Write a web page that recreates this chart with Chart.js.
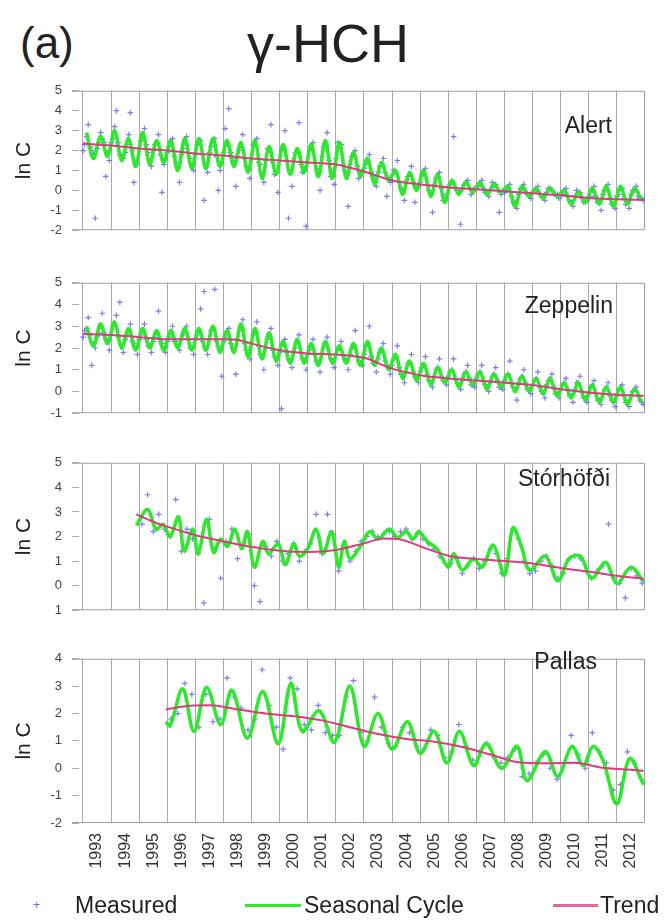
<!DOCTYPE html>
<html><head><meta charset="utf-8">
<script src="https://cdn.jsdelivr.net/npm/chart.js@4.4.1/dist/chart.umd.min.js"></script>
<style>
html,body{margin:0;padding:0;background:#fff;}
body{width:668px;height:922px;position:relative;overflow:hidden;font-family:"Liberation Sans",Arial,sans-serif;color:#222;}
.abs{position:absolute;line-height:1;white-space:nowrap;}
.panel{position:absolute;left:0;width:668px;}
canvas{display:block;}
</style></head><body>
<div class="abs" style="left:20px;top:21px;font-size:44px;">(a)</div>
<div class="abs" style="left:247px;top:16px;font-size:54px;">γ-HCH</div>

<div class="panel" style="top:66px;height:189px"><canvas id="c1" width="668" height="189"></canvas></div>
<div class="panel" style="top:258px;height:180px"><canvas id="c2" width="668" height="180"></canvas></div>
<div class="panel" style="top:438px;height:197px"><canvas id="c3" width="668" height="197"></canvas></div>
<div class="panel" style="top:634px;height:251px"><canvas id="c4" width="668" height="251"></canvas></div>

<div class="abs" style="right:56px;top:114px;font-size:23px;">Alert</div>
<div class="abs" style="right:55px;top:294px;font-size:23px;">Zeppelin</div>
<div class="abs" style="right:58px;top:467px;font-size:23px;">Stórhöfði</div>
<div class="abs" style="right:71px;top:650px;font-size:23px;">Pallas</div>

<div class="abs" style="left:33px;top:899px;font-size:12px;color:#6a6af0;">+</div>
<div class="abs" style="left:75px;top:894px;font-size:23px;">Measured</div>
<div class="abs" style="left:245px;top:904px;width:56px;height:3px;background:#2ee82e;"></div>
<div class="abs" style="left:304px;top:894px;font-size:23px;">Seasonal Cycle</div>
<div class="abs" style="left:553px;top:904px;width:45px;height:3px;background:#e2679b;"></div>
<div class="abs" style="left:600px;top:894px;font-size:23px;">Trend</div>

<script>
// ---------- axes ----------
const X_MIN = 1992.61, X_MAX = 2013.0;
const years = [1993,1994,1995,1996,1997,1998,1999,2000,2001,2002,2003,2004,2005,2006,2007,2008,2009,2010,2011,2012];
const yearLabels = ['1993','1994','1995','1996','1997','1998','1999','2000','2001','2002','2003','2004','2005','2006','2007','2008','2009','2010','2011','2012'];
const alertTickLabels = ['-2','-1','0','1','2','3','4','5'];
const zeppelinTickLabels = ['-1','0','1','2','3','4','5'];
const storhofdiTickLabels = ['1','0','1','2','3','4','5'];
const pallasTickLabels = ['-2','-1','0','1','2','3','4'];

// ---------- Alert (measured: two sets of 8 per year from 1993; seasonal: 4 per year) ----------
const alertMeasured = [
  2.3, 3.3, 2.0, -1.4, 2.4, 2.6, 0.7, 1.5,
  2.6, 4.0, 1.8, 1.6, 2.3, 3.9, 0.4, 1.3,
  2.5, 3.1, 1.9, 1.2, 2.3, 2.8, -0.1, 1.6,
  2.2, 2.6, 1.4, 0.4, 2.1, 2.7, 1.6, 1.0,
  2.3, 2.5, -0.5, 0.9, 2.2, 2.6, 0.0, 1.4,
  3.1, 4.1, 1.6, 0.2, 2.0, 2.8, 1.2, 0.6,
  2.3, 2.6, 1.3, 0.4, 2.1, 3.3, 0.8, -0.1,
  2.0, 3.0, -1.4, 0.2, 1.9, 3.4, 0.9, -1.8,
  2.0, 2.4, 1.1, 0.0, 2.2, 2.9, 0.7, 0.3,
  2.4, 2.3, 1.0, -0.8, 1.7, 2.0, 0.6, 0.9,
  1.3, 1.8, 0.7, 0.2, 1.2, 1.6, -0.3, 0.4,
  1.0, 1.5, 0.1, -0.5, 0.7, 1.2, -0.6, 0.2,
  0.8, 1.1, 0.0, -1.1, 0.6, 0.9, -0.5, -0.2,
  0.3, 2.7, 0.0, -1.7, 0.3, 0.5, -0.2, 0.1,
  0.2, 0.5, -0.1, -0.3, 0.4, 0.3, -1.1, 0.0,
  0.0, 0.3, -0.6, -0.9, 0.1, 0.3, -0.2, -0.4,
  0.0, 0.2, -0.3, -0.5, 0.1, 0.0, -0.2, -0.4,
  -0.2, 0.1, -0.5, -0.8, 0.0, -0.1, -0.6, -0.5,
  -0.3, 0.2, -0.6, -1.0, 0.0, 0.3, -0.7, -0.9,
  -0.2, 0.1, -0.7, -0.9, 0.0, 0.2, -0.4, -0.5
];
const alertMeasured2 = [
  2.0, 2.7, 2.2, 1.8, 2.1, 2.9, 2.4, 1.9,
  2.4, 3.2, 2.4, 1.7, 1.9, 2.8, 2.0, 1.4,
  2.1, 2.7, 2.3, 1.5, 2.0, 2.4, 1.8, 1.3,
  1.9, 2.4, 1.7, 1.2, 1.8, 2.4, 1.9, 1.3,
  1.8, 2.4, 1.8, 1.3, 1.9, 2.5, 1.7, 1.0,
  1.9, 2.3, 1.9, 1.4, 1.7, 2.2, 1.6, 1.1,
  1.6, 2.3, 1.4, 0.8, 1.5, 2.0, 1.4, 0.9,
  1.5, 2.2, 1.5, 0.9, 1.6, 2.0, 1.3, 1.1,
  1.4, 2.1, 1.4, 0.9, 1.7, 2.3, 1.5, 0.8,
  1.6, 2.2, 1.3, 0.8, 1.3, 1.8, 1.2, 0.9,
  1.1, 1.5, 0.9, 0.5, 0.9, 1.3, 0.9, 0.6,
  0.5, 0.9, 0.4, 0.0, 0.5, 0.8, 0.4, 0.1,
  0.4, 0.8, 0.3, -0.2, 0.3, 0.7, 0.1, -0.4,
  0.2, 0.4, 0.1, -0.1, 0.1, 0.4, 0.1, 0.0,
  0.1, 0.3, 0.1, -0.1, 0.0, 0.2, 0.0, -0.2,
  -0.1, 0.1, -0.3, -0.6, -0.2, 0.1, -0.1, -0.3,
  -0.1, 0.0, -0.2, -0.3, -0.1, 0.1, -0.2, -0.2,
  -0.2, 0.0, -0.3, -0.6, -0.3, -0.1, -0.4, -0.6,
  -0.4, 0.0, -0.3, -0.6, -0.2, 0.1, -0.4, -0.7,
  -0.3, 0.1, -0.4, -0.6, -0.2, 0.0, -0.3, -0.4
];
const alertSeasonal = [
  2.9, 1.6, 2.7, 1.7,   3.0, 1.5, 2.6, 1.2,   2.9, 1.3, 2.5, 1.4,   2.5, 1.0, 2.6, 1.1,
  2.6, 1.1, 2.6, 1.2,   2.5, 1.2, 2.4, 0.9,   2.5, 0.6, 2.2, 0.8,   2.3, 0.8, 2.1, 0.9,
  2.3, 0.7, 2.5, 0.6,   2.4, 0.6, 1.9, 0.7,   1.6, 0.3, 1.4, 0.5,   1.0, -0.2, 0.9, 0.0,
  1.0, -0.3, 0.8, -0.6, 0.5, -0.2, 0.4, -0.1, 0.4, -0.2, 0.3, -0.1, 0.2, -0.8, 0.2, -0.3,
  0.1, -0.4, 0.1, -0.3, 0.0, -0.7, -0.1, -0.6, 0.1, -0.7, 0.2, -0.8, 0.2, -0.7, 0.1, -0.5
];
const alertTrend = [[1993.0,2.35],[1994,2.25],[1995,2.1],[1996,2.0],[1997,1.85],[1998,1.75],[1999,1.6],[2000,1.5],[2001,1.4],[2002,1.3],[2003,0.95],[2004,0.5],[2005,0.3],[2006,0.15],[2007,0.05],[2008,-0.05],[2009,-0.15],[2010,-0.25],[2011,-0.38],[2012,-0.45],[2012.95,-0.47]];

// ---------- Zeppelin ----------
const zeppelinMeasured = [
  2.8, 3.4, 1.2, 2.0, 2.7, 3.6, 2.4, 1.9,
  3.0, 3.5, 4.1, 1.8, 2.6, 3.1, 2.2, 1.7,
  2.6, 3.1, 2.1, 1.8, 2.5, 3.7, 2.2, 1.8,
  2.5, 3.0, 2.3, 1.9, 2.6, 3.0, 2.0, 1.7,
  2.6, 3.8, 4.6, 1.7, 2.8, 4.7, 2.1, 0.7,
  2.5, 2.9, 2.0, 0.8, 2.8, 3.3, 1.9, 1.5,
  2.6, 3.2, 1.7, 1.0, 2.4, 2.9, 1.6, 1.2,
  -0.8, 2.4, 1.5, 1.1, 2.0, 2.6, 1.5, 1.0,
  1.9, 2.4, 1.4, 0.9, 2.0, 2.5, 1.5, 1.1,
  1.9, 2.3, 1.5, 1.0, 2.0, 2.8, 1.4, 1.2,
  2.1, 3.0, 1.3, 0.9, 1.8, 2.2, 1.2, 0.8,
  1.5, 2.1, 0.8, 0.4, 1.3, 1.7, 0.7, 0.4,
  1.1, 1.6, 0.5, 0.2, 1.0, 1.5, 0.5, 0.3,
  0.9, 1.5, 0.4, 0.1, 0.8, 1.2, 0.3, 0.2,
  0.8, 1.2, 0.3, 0.0, 0.7, 1.1, 0.2, 0.1,
  0.7, 1.4, 0.2, -0.4, 0.6, 1.0, 0.1, -0.1,
  0.5, 0.9, 0.0, -0.3, 0.5, 0.8, -0.1, -0.3,
  0.3, 0.6, -0.2, -0.5, 0.4, 0.7, -0.3, -0.5,
  0.2, 0.5, -0.4, -0.6, 0.1, 0.4, -0.4, -0.7,
  0.1, 0.3, -0.5, -0.7, 0.0, 0.2, -0.4, -0.6
];
const zeppelinMeasured2 = [
  2.5, 2.9, 2.6, 2.2, 2.5, 3.0, 2.7, 2.3,
  2.6, 3.1, 2.5, 2.1, 2.4, 2.8, 2.3, 2.0,
  2.4, 2.8, 2.4, 2.1, 2.3, 2.7, 2.3, 2.0,
  2.3, 2.7, 2.3, 2.1, 2.4, 2.8, 2.4, 2.0,
  2.4, 2.8, 2.3, 2.0, 2.4, 2.9, 2.3, 1.9,
  2.3, 2.7, 2.2, 1.9, 2.4, 3.0, 2.2, 1.7,
  2.2, 2.8, 2.1, 1.6, 2.0, 2.6, 1.9, 1.5,
  1.8, 2.2, 1.8, 1.4, 1.8, 2.3, 1.8, 1.4,
  1.7, 2.1, 1.7, 1.3, 1.7, 2.2, 1.7, 1.4,
  1.7, 2.0, 1.7, 1.4, 1.7, 2.1, 1.6, 1.3,
  1.7, 2.2, 1.6, 1.3, 1.5, 1.9, 1.4, 1.1,
  1.2, 1.6, 1.1, 0.7, 0.9, 1.3, 0.9, 0.6,
  0.9, 1.2, 0.8, 0.4, 0.7, 1.1, 0.7, 0.5,
  0.7, 1.0, 0.6, 0.3, 0.6, 0.9, 0.6, 0.3,
  0.6, 0.9, 0.5, 0.2, 0.5, 0.8, 0.5, 0.2,
  0.5, 0.8, 0.4, 0.1, 0.4, 0.7, 0.4, 0.1,
  0.3, 0.6, 0.2, -0.1, 0.3, 0.6, 0.2, -0.1,
  0.1, 0.4, 0.1, -0.2, 0.1, 0.4, 0.0, -0.3,
  -0.1, 0.3, -0.1, -0.4, -0.1, 0.2, -0.2, -0.5,
  -0.2, 0.2, -0.2, -0.5, -0.2, 0.1, -0.2, -0.5
];
const zeppelinSeasonal = [
  3.0, 2.1, 3.1, 2.2,   3.2, 2.0, 2.9, 1.9,   2.9, 2.0, 2.8, 1.9,   2.8, 2.0, 2.9, 1.9,
  2.9, 1.9, 3.0, 1.8,   2.8, 1.8, 3.1, 1.6,   2.9, 1.5, 2.7, 1.4,   2.3, 1.3, 2.4, 1.3,
  2.2, 1.2, 2.3, 1.3,   2.1, 1.3, 2.2, 1.2,   2.3, 1.2, 2.0, 1.0,   1.7, 0.6, 1.4, 0.5,
  1.3, 0.3, 1.1, 0.4,   1.0, 0.2, 0.9, 0.3,   0.9, 0.1, 0.8, 0.2,   0.8, 0.0, 0.7, 0.0,
  0.6, -0.1, 0.6, -0.2, 0.4, -0.3, 0.4, -0.4, 0.3, -0.5, 0.2, -0.5, 0.2, -0.6, 0.1, -0.5
];
const zeppelinTrend = [[1993.0,2.65],[1994,2.6],[1995,2.5],[1996,2.4],[1997,2.4],[1998,2.4],[1998.6,2.35],[1999,2.2],[2000,1.9],[2001,1.75],[2002,1.7],[2003,1.55],[2004,1.05],[2005,0.75],[2006,0.6],[2007,0.5],[2008,0.4],[2009,0.3],[2010,0.1],[2011,-0.05],[2012,-0.15],[2012.95,-0.2]];

// ---------- Stórhöfði (measured: 5 per year from 1995) ----------
const storhofdiMeasured = [
  2.5, 3.7, 2.2, 2.9, 2.3,
  2.0, 3.5, 1.4, 2.3, 1.9,
  1.3, -0.7, 2.7, 1.5, 0.3,
  1.8, 2.3, 1.1, 1.7, 2.1,
  0.0, -0.65, 1.6, 1.2, 1.8,
  1.0, 1.3, 1.7, 1.0, 1.4,
  1.7, 2.9, 1.3, 2.9, 2.1,
  0.6, 1.7, 1.0, 1.4, 1.8,
  2.0, 2.2, 2.0, 2.1, 2.2,
  2.0, 2.2, 2.3, 1.9, 2.1,
  1.9, 1.7, 1.5, 1.2, 0.9,
  0.9, 1.1, 0.5, 0.8, 1.1,
  0.7, 1.0, 1.5, 1.3, 0.5,
  1.1, 2.3, 1.9, 1.0, 0.5,
  0.6, 1.0, 1.2, 0.8, 0.3,
  0.5, 1.1, 1.2, 1.1, 0.6,
  0.3, 0.6, 0.8, 2.5, 0.3,
  0.1, -0.5, 0.7, 0.4, 0.1
];
const storhofdiSeasonal = [[1994.9,2.45],[1995.3,3.1],[1995.6,2.3],[1995.85,2.5],[1996.1,2.0],[1996.4,2.8],[1996.6,1.4],[1996.9,2.3],[1997.1,1.3],[1997.4,2.7],[1997.65,1.35],[1997.9,1.9],[1998.15,1.6],[1998.4,2.3],[1998.65,1.5],[1998.85,2.2],[1999.1,0.75],[1999.4,1.8],[1999.6,1.3],[1999.95,1.7],[2000.2,0.85],[2000.5,1.7],[2000.7,1.2],[2001.0,1.5],[2001.3,2.3],[2001.55,1.3],[2001.85,2.2],[2002.1,0.75],[2002.3,1.8],[2002.5,1.1],[2002.9,1.65],[2003.2,2.2],[2003.5,1.9],[2003.9,2.3],[2004.2,1.95],[2004.5,2.2],[2004.75,1.9],[2004.95,2.2],[2005.25,1.8],[2005.6,1.5],[2006.0,0.75],[2006.2,1.3],[2006.5,0.63],[2006.9,1.1],[2007.2,0.75],[2007.6,1.65],[2008.0,0.42],[2008.3,2.35],[2008.6,1.6],[2008.9,0.63],[2009.45,1.2],[2009.9,0.2],[2010.3,1.1],[2010.7,1.2],[2011.1,0.3],[2011.6,0.95],[2012.0,0.08],[2012.5,0.75],[2012.95,0.15]];
const storhofdiTrend = [[1994.9,2.9],[1995.5,2.6],[1996,2.4],[1997,2.05],[1998,1.8],[1999,1.58],[2000,1.42],[2001,1.37],[2002,1.45],[2003,1.72],[2003.7,1.92],[2004.3,1.88],[2005,1.6],[2006,1.22],[2007,1.08],[2008,1.0],[2009,0.9],[2010,0.72],[2011,0.57],[2012,0.4],[2012.95,0.28]];

// ---------- Pallas (measured: 4 per year from 1996) ----------
const pallasMeasured = [
  1.8, 2.0, 3.1, 2.7,
  1.5, 2.7, 1.7, 1.8,
  3.3, 2.6, 2.2, 1.4,
  1.8, 3.6, 2.3, 1.5,
  0.7, 3.3, 2.9, 1.6,
  1.4, 2.3, 1.3, 1.2,
  1.2, 2.6, 3.2, 1.3,
  1.0, 2.6, 1.5, 0.9,
  0.8, 1.5, 1.3, 0.8,
  0.7, 1.4, 1.2, 0.4,
  0.6, 1.6, 0.8, 0.3,
  0.6, 0.9, 0.4, 0.2,
  0.4, 0.7, -0.3, -0.2,
  0.2, 0.5, 0.0, -0.4,
  0.2, 1.2, 0.5, 0.0,
  1.3, 0.6, 0.2, -0.8,
  -0.6, 0.6, 0.2, -0.4
];
const pallasSeasonal = [[1995.95,1.7],[1996.1,1.55],[1996.55,2.9],[1996.95,1.35],[1997.4,2.95],[1997.9,1.6],[1998.3,2.85],[1998.85,1.1],[1999.4,2.8],[1999.95,0.9],[2000.4,3.1],[2000.8,1.35],[2001.4,2.1],[2001.95,0.95],[2002.5,3.0],[2003.0,0.8],[2003.5,2.0],[2004.0,0.7],[2004.55,1.7],[2005.0,0.55],[2005.5,1.35],[2005.95,0.2],[2006.4,1.35],[2006.9,0.1],[2007.35,0.9],[2007.9,0.0],[2008.45,0.8],[2008.8,-0.45],[2009.45,0.6],[2009.9,-0.3],[2010.4,0.8],[2010.8,0.1],[2011.15,0.8],[2011.5,0.3],[2012.0,-1.3],[2012.45,0.35],[2012.95,-0.6]];
const pallasTrend = [[1995.95,2.15],[1996.5,2.25],[1997.5,2.3],[1998.5,2.15],[1999.5,2.0],[2000.5,1.9],[2001.5,1.75],[2002.5,1.5],[2003.5,1.25],[2004.5,1.07],[2005.5,0.97],[2006.5,0.78],[2007.5,0.5],[2008.5,0.22],[2009.5,0.18],[2010.5,0.2],[2011.5,0.02],[2012.5,-0.05],[2012.95,-0.1]];

// ---------- helpers ----------
const BLUE = 'rgba(80,80,235,0.75)';
const GREEN = '#2ee82e';
const PINK = '#e0397f';
const GRID = '#ababab';
const FRAME = '#a0a0a0';

function regular(values, startYear, perYear, offset) {
  return values.map((v, i) => ({ x: startYear + Math.floor(i / perYear) + (i % perYear + offset) / perYear, y: v }));
}
function pairs(arr) { return arr.map(p => ({ x: p[0], y: p[1] })); }

const framePlugin = {
  id: 'frame',
  beforeDatasetsDraw(chart) {
    const { ctx, chartArea: { left, top, right, bottom } } = chart;
    ctx.save();
    ctx.strokeStyle = FRAME;
    ctx.lineWidth = 1;
    ctx.beginPath();
    ctx.moveTo(left, top + 0.5); ctx.lineTo(right - 0.5, top + 0.5);
    ctx.lineTo(right - 0.5, bottom - 0.5); ctx.lineTo(left, bottom - 0.5);
    ctx.stroke();
    ctx.restore();
  }
};

function makePanel(id, cfg) {
  const scales = {
    x: {
      type: 'linear', min: X_MIN, max: X_MAX,
      afterBuildTicks: ax => { ax.ticks = years.map(v => ({ value: v })); },
      ticks: { display: false },
      grid: { color: GRID, lineWidth: 1, drawTicks: false },
      border: { display: false },
      afterFit: s => { s.height = 0; }
    },
    y: {
      min: cfg.yMin, max: cfg.yMax,
      ticks: { stepSize: 1, callback: (v, i) => cfg.tickLabels[i], font: { size: 13, family: 'Liberation Sans' }, color: '#444', padding: 17 },
      grid: { drawOnChartArea: false, drawTicks: true, tickLength: -7, color: '#aaa' },
      border: { display: false },
      title: { display: true, text: 'ln C', font: { size: 21, family: 'Liberation Sans' }, color: '#222', padding: { top: 12, bottom: 0 } },
      afterFit: s => { s.width = 72; }
    }
  };
  if (cfg.bottom) {
    scales.x2 = {
      type: 'linear', position: 'bottom', min: X_MIN, max: X_MAX,
      afterBuildTicks: ax => { ax.ticks = years.map(v => ({ value: v + 0.5 })); },
      ticks: { autoSkip: false, minRotation: 90, maxRotation: 90, callback: (v, i) => yearLabels[i], font: { size: 16, family: 'Liberation Sans' }, color: '#333', padding: 10 },
      grid: { display: false, drawTicks: false },
      border: { display: false },
      afterFit: s => { s.height = 62; }
    };
  }
  new Chart(document.getElementById(id), {
    type: 'line',
    data: {
      datasets: [
        { label: 'Trend', data: cfg.trend, borderColor: PINK, borderWidth: 2, pointRadius: 0, cubicInterpolationMode: 'monotone', order: 0 },
        { label: 'Seasonal Cycle', data: cfg.seasonal, borderColor: GREEN, borderWidth: 3.6, pointRadius: 0, tension: 0.35, order: 1 },
        { label: 'Measured', data: cfg.measured, showLine: false, pointStyle: 'cross', pointRadius: 2.8, borderColor: BLUE, backgroundColor: BLUE, borderWidth: 1.2, order: 2 }
      ]
    },
    options: {
      responsive: false, animation: false, events: [],
      layout: { padding: { top: cfg.padTop, bottom: cfg.padBottom, left: 0, right: 23 } },
      plugins: { legend: { display: false }, tooltip: { enabled: false } },
      scales
    },
    plugins: [framePlugin]
  });
}

makePanel('c1', { yMin: -2, yMax: 5, tickLabels: alertTickLabels, padTop: 10, padBottom: 10,
  measured: regular(alertMeasured, 1993, 8, 0.5).concat(regular(alertMeasured2, 1993, 8, 0.05)),
  seasonal: regular(alertSeasonal, 1993, 4, 0.5), trend: pairs(alertTrend) });
makePanel('c2', { yMin: -1, yMax: 5, tickLabels: zeppelinTickLabels, padTop: 12, padBottom: 10,
  measured: regular(zeppelinMeasured, 1993, 8, 0.5).concat(regular(zeppelinMeasured2, 1993, 8, 0.05)),
  seasonal: regular(zeppelinSeasonal, 1993, 4, 0.5), trend: pairs(zeppelinTrend) });
makePanel('c3', { yMin: -1, yMax: 5, tickLabels: storhofdiTickLabels, padTop: 10, padBottom: 10,
  measured: regular(storhofdiMeasured, 1995, 5, 0.5), seasonal: pairs(storhofdiSeasonal), trend: pairs(storhofdiTrend) });
makePanel('c4', { yMin: -2, yMax: 4, tickLabels: pallasTickLabels, padTop: 10, padBottom: 0, bottom: true,
  measured: regular(pallasMeasured, 1996, 4, 0.5), seasonal: pairs(pallasSeasonal), trend: pairs(pallasTrend) });
</script>
</body></html>
